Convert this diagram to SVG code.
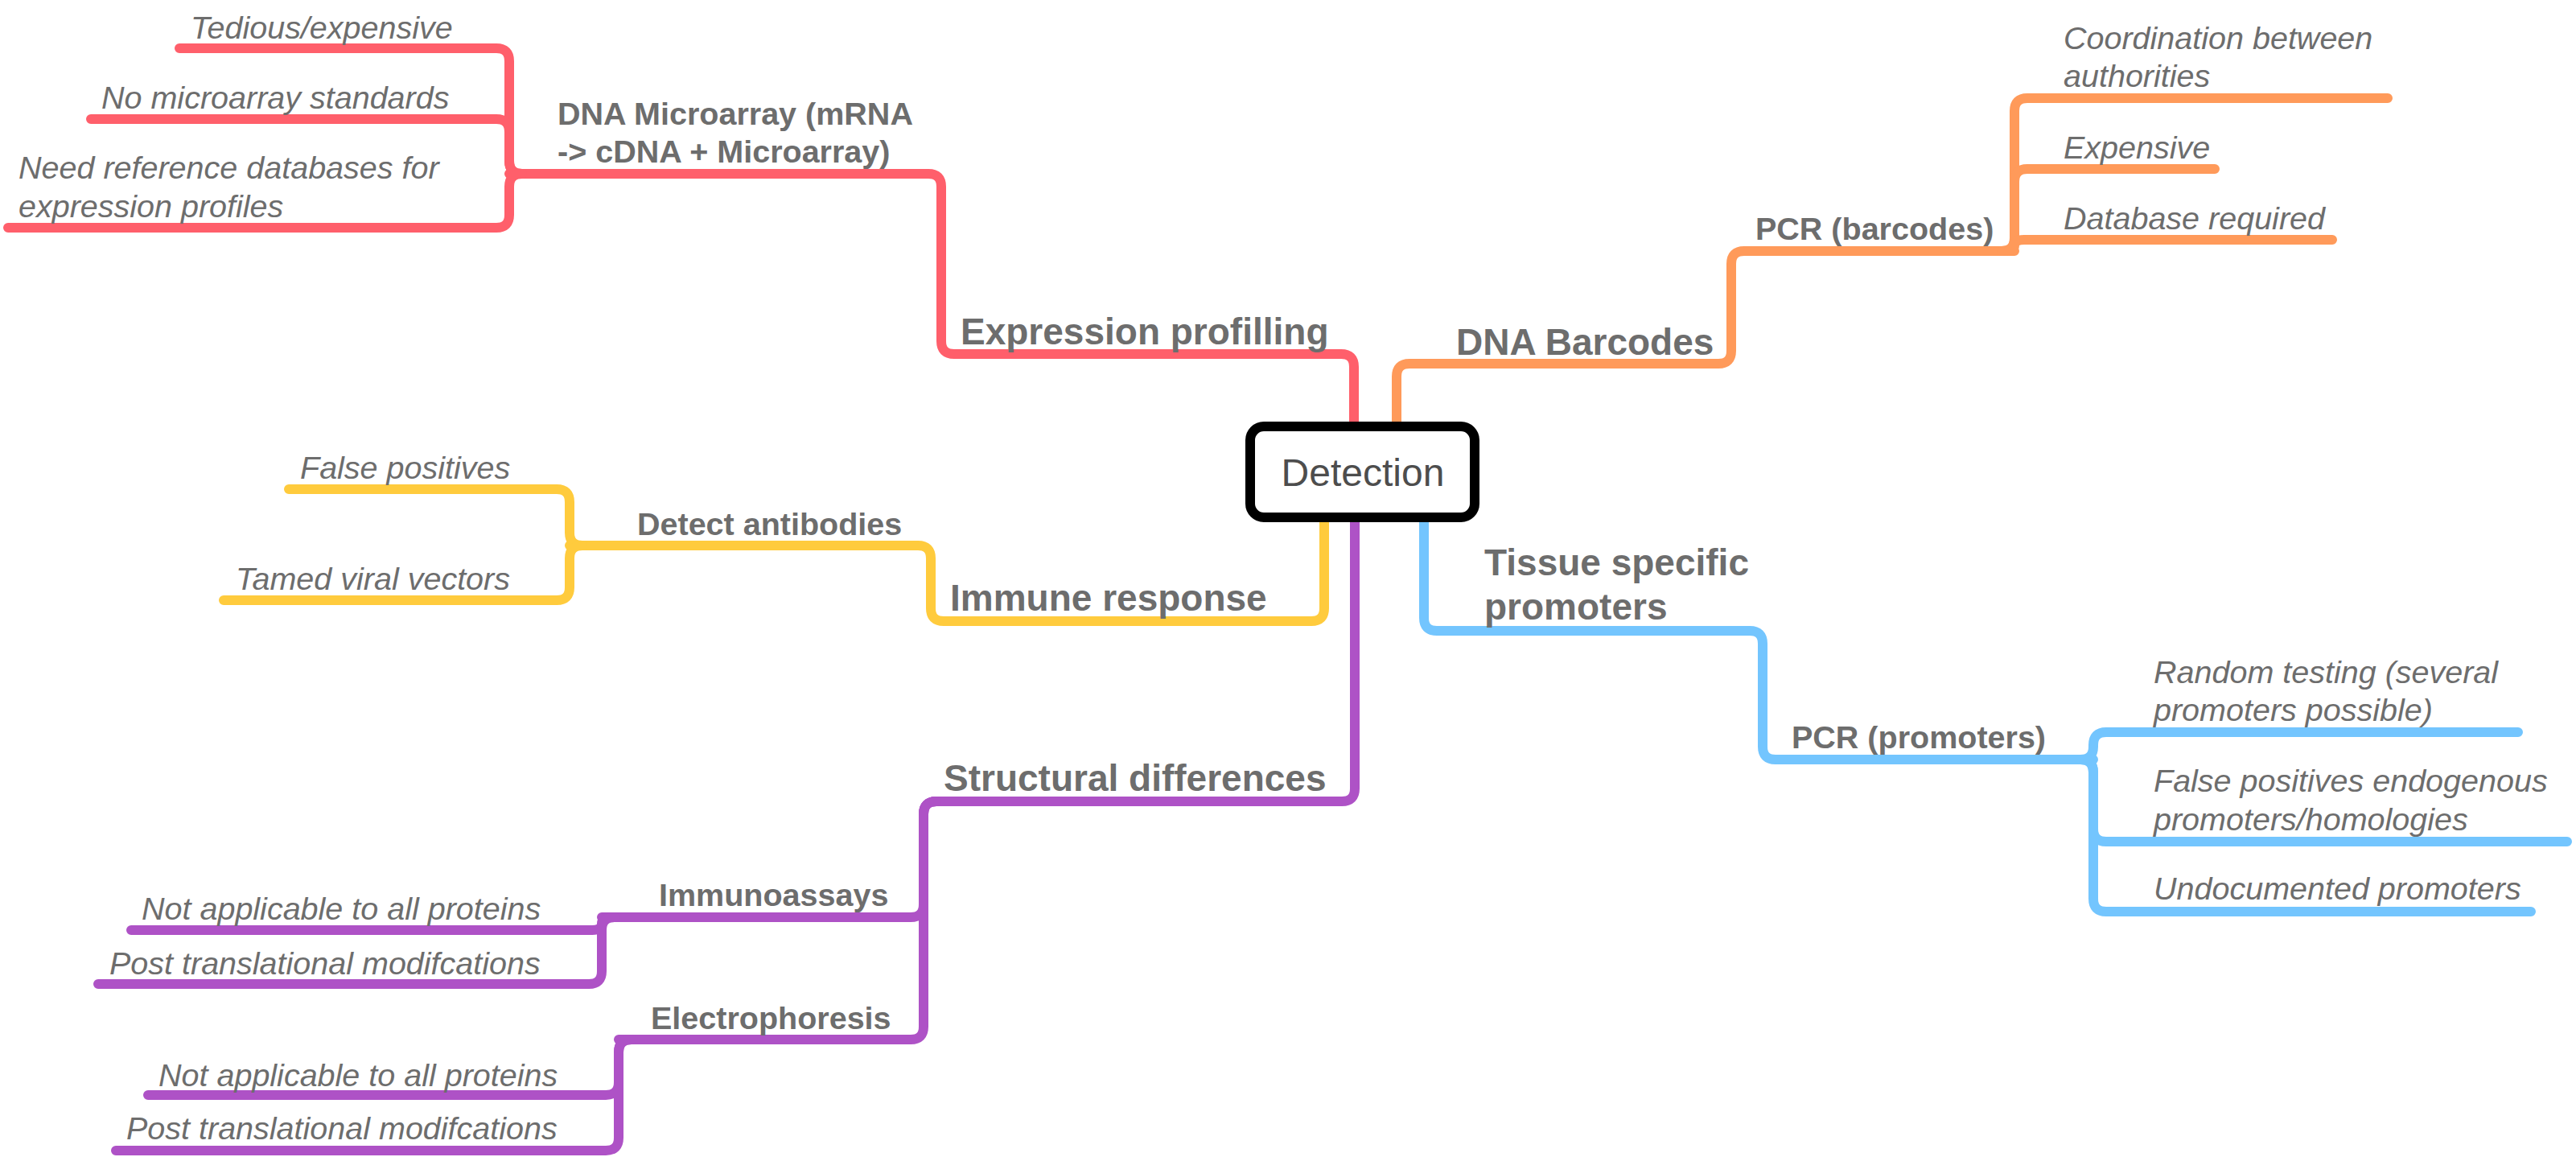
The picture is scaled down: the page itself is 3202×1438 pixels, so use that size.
<svg xmlns="http://www.w3.org/2000/svg" width="3202" height="1438" viewBox="0 0 3202 1438">
<style>
.c{fill:none;stroke-width:12;stroke-linecap:round;stroke-linejoin:round}
.red{stroke:#FF5F6B}.org{stroke:#FF9A5A}.yel{stroke:#FFCB3D}.pur{stroke:#AE52C6}.blu{stroke:#73C5FE}
text{font-family:"Liberation Sans",Arial,Helvetica,sans-serif;fill:#6d6d6d}
.l1{font-size:46px;font-weight:bold}
.l2{font-size:39.5px;font-weight:bold}
.lf{font-size:39.5px;font-style:italic}
.root{font-size:48px;fill:#4d4d4d}
</style>
<rect width="3202" height="1438" fill="#ffffff"/>
<g id="connectors">
<!-- red -->
<path class="c red" d="M1683 560 L1683 456 Q1683 440 1667 440 L1186 440 Q1170 440 1170 424 L1170 232 Q1170 216 1154 216 L633 216"/>
<path class="c red" d="M649 216 Q633 216 633 200 L633 76 Q633 60 617 60 L223 60"/>
<path class="c red" d="M649 216 Q633 216 633 200 L633 164 Q633 148 617 148 L113 148"/>
<path class="c red" d="M649 216 Q633 216 633 232 L633 267 Q633 283 617 283 L10 283"/>
<!-- orange -->
<path class="c org" d="M1736 560 L1736 468 Q1736 452 1752 452 L2136 452 Q2152 452 2152 436 L2152 328 Q2152 312 2168 312 L2504 312"/>
<path class="c org" d="M2488 312 Q2504 312 2504 296 L2504 138 Q2504 122 2520 122 L2968 122"/>
<path class="c org" d="M2488 312 Q2504 312 2504 296 L2504 226 Q2504 210 2520 210 L2753 210"/>
<path class="c org" d="M2488 312 Q2504 312 2504 305 Q2504 298 2516 298 L2899 298"/>
<!-- yellow -->
<path class="c yel" d="M1646 620 L1646 756 Q1646 772 1630 772 L1173 772 Q1157 772 1157 756 L1157 694 Q1157 678 1141 678 L708 678"/>
<path class="c yel" d="M724 678 Q708 678 708 662 L708 624 Q708 608 692 608 L359 608"/>
<path class="c yel" d="M724 678 Q708 678 708 694 L708 730 Q708 746 692 746 L278 746"/>
<!-- purple -->
<path class="c pur" d="M1684 620 L1684 980 Q1684 996 1668 996 L1164 996 Q1148 996 1148 1012"/>
<path class="c pur" d="M1164 996 Q1148 996 1148 1012 L1148 1124 Q1148 1140 1132 1140 L748 1140"/>
<path class="c pur" d="M1164 996 Q1148 996 1148 1012 L1148 1276 Q1148 1292 1132 1292 L769 1292"/>
<path class="c pur" d="M764 1140 Q748 1140 748 1148 Q748 1156 736 1156 L163 1156"/>
<path class="c pur" d="M764 1140 Q748 1140 748 1156 L748 1207 Q748 1223 732 1223 L122 1223"/>
<path class="c pur" d="M785 1292 Q769 1292 769 1308 L769 1345 Q769 1361 753 1361 L184 1361"/>
<path class="c pur" d="M785 1292 Q769 1292 769 1308 L769 1414 Q769 1430 753 1430 L144 1430"/>
<!-- blue -->
<path class="c blu" d="M1770 620 L1770 768 Q1770 784 1786 784 L2175 784 Q2191 784 2191 800 L2191 928 Q2191 944 2207 944 L2602 944"/>
<path class="c blu" d="M2586 944 Q2602 944 2602 928 L2602 926 Q2602 910 2618 910 L3130 910"/>
<path class="c blu" d="M2586 944 Q2602 944 2602 960 L2602 1030 Q2602 1046 2618 1046 L3191 1046"/>
<path class="c blu" d="M2586 944 Q2602 944 2602 960 L2602 1117 Q2602 1133 2618 1133 L3146 1133"/>
</g>
<g id="node-detection">
<rect x="1554" y="530" width="279" height="113" rx="17" ry="17" fill="#ffffff" stroke="#000000" stroke-width="12"/>
<text class="root" x="1694" y="604" text-anchor="middle">Detection</text>
</g>
<g id="node-expression-profilling"><text class="l1" x="1194" y="428">Expression profilling</text></g>
<g id="node-dna-microarray"><text class="l2" x="693" y="155">DNA Microarray (mRNA</text><text class="l2" x="693" y="202">-&gt; cDNA + Microarray)</text></g>
<g id="node-tedious"><text class="lf" x="237" y="48">Tedious/expensive</text></g>
<g id="node-no-standards"><text class="lf" x="126" y="135">No microarray standards</text></g>
<g id="node-need-reference"><text class="lf" x="23" y="222">Need reference databases for</text><text class="lf" x="23" y="270">expression profiles</text></g>
<g id="node-dna-barcodes"><text class="l1" x="1810" y="441">DNA Barcodes</text></g>
<g id="node-pcr-barcodes"><text class="l2" x="2182" y="298">PCR (barcodes)</text></g>
<g id="node-coordination"><text class="lf" x="2565" y="61">Coordination between</text><text class="lf" x="2565" y="108">authorities</text></g>
<g id="node-expensive"><text class="lf" x="2565" y="197">Expensive</text></g>
<g id="node-database"><text class="lf" x="2565" y="285">Database required</text></g>
<g id="node-immune-response"><text class="l1" x="1181" y="759">Immune response</text></g>
<g id="node-detect-antibodies"><text class="l2" x="792" y="665">Detect antibodies</text></g>
<g id="node-false-positives"><text class="lf" x="373" y="595">False positives</text></g>
<g id="node-tamed"><text class="lf" x="293" y="733">Tamed viral vectors</text></g>
<g id="node-structural"><text class="l1" x="1173" y="983">Structural differences</text></g>
<g id="node-immunoassays"><text class="l2" x="819" y="1126">Immunoassays</text></g>
<g id="node-ia-not-applicable"><text class="lf" x="176" y="1143">Not applicable to all proteins</text></g>
<g id="node-ia-post"><text class="lf" x="136" y="1211">Post translational modifcations</text></g>
<g id="node-electrophoresis"><text class="l2" x="809" y="1279">Electrophoresis</text></g>
<g id="node-ep-not-applicable"><text class="lf" x="197" y="1350">Not applicable to all proteins</text></g>
<g id="node-ep-post"><text class="lf" x="157" y="1416">Post translational modifcations</text></g>
<g id="node-tissue"><text class="l1" x="1845" y="715">Tissue specific</text><text class="l1" x="1845" y="770">promoters</text></g>
<g id="node-pcr-promoters"><text class="l2" x="2227" y="930">PCR (promoters)</text></g>
<g id="node-random"><text class="lf" x="2677" y="849">Random testing (several</text><text class="lf" x="2677" y="896">promoters possible)</text></g>
<g id="node-false-endogenous"><text class="lf" x="2677" y="984">False positives endogenous</text><text class="lf" x="2677" y="1032">promoters/homologies</text></g>
<g id="node-undocumented"><text class="lf" x="2677" y="1118">Undocumented promoters</text></g>
</svg>
